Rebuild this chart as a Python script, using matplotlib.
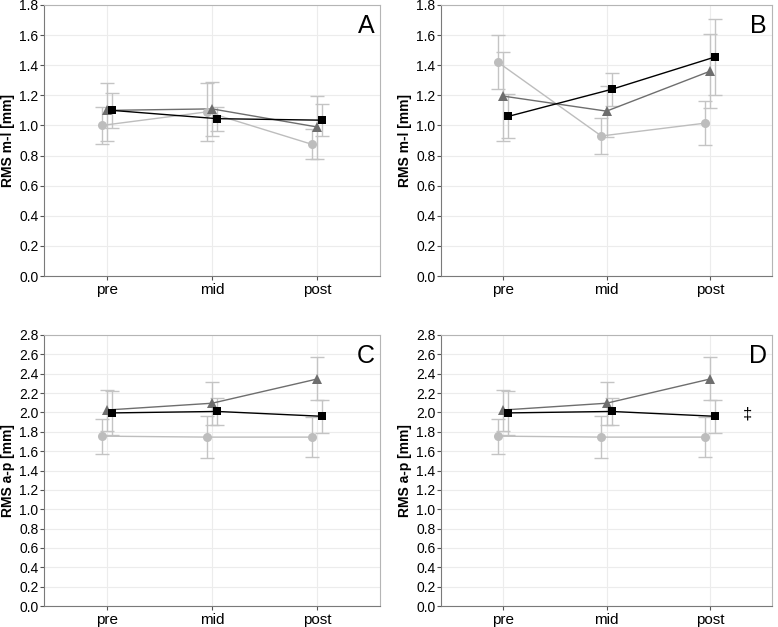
import matplotlib.pyplot as plt
import numpy as np

plt.rcParams["font.family"] = ["Liberation Sans", "DejaVu Sans"]

phases = ["pre", "mid", "post"]
groups = ["circle", "triangle", "square"]

# panel A: RMS m-l
a_mean = {"circle": [1.00, 1.09, 0.875], "triangle": [1.10, 1.11, 0.99], "square": [1.10, 1.045, 1.035]}
a_low = {"circle": [0.88, 0.895, 0.775], "triangle": [0.90, 0.93, 0.78], "square": [0.98, 0.965, 0.93]}
a_high = {"circle": [1.12, 1.28, 0.975], "triangle": [1.28, 1.29, 1.195], "square": [1.215, 1.125, 1.14]}

# panel B: RMS m-l
b_mean = {"circle": [1.42, 0.93, 1.015], "triangle": [1.195, 1.095, 1.36], "square": [1.06, 1.24, 1.455]}
b_low = {"circle": [1.24, 0.81, 0.87], "triangle": [0.90, 0.92, 1.115], "square": [0.915, 1.13, 1.205]}
b_high = {"circle": [1.60, 1.05, 1.16], "triangle": [1.485, 1.26, 1.605], "square": [1.21, 1.35, 1.705]}

# panels C and D: RMS a-p
c_mean = {"circle": [1.755, 1.745, 1.745], "triangle": [2.025, 2.095, 2.345], "square": [1.995, 2.01, 1.96]}
c_low = {"circle": [1.575, 1.53, 1.54], "triangle": [1.81, 1.875, 2.125], "square": [1.765, 1.87, 1.79]}
c_high = {"circle": [1.935, 1.96, 1.95], "triangle": [2.23, 2.315, 2.57], "square": [2.22, 2.15, 2.13]}

style = {
    "circle": dict(marker="o", color="#bdbdbd", ms=6.5, offset=-0.05, lw=1.0),
    "triangle": dict(marker="^", color="#6e6e6e", ms=7.5, offset=0.0, lw=1.0),
    "square": dict(marker="s", color="#000000", ms=6, offset=0.05, lw=1.0),
}


def draw_panel(ax, mean, low, high, letter, ylabel, ymax):
    x = np.arange(1, len(phases) + 1)
    for g in groups:
        s = style[g]
        xs = x + s["offset"]
        m = np.array(mean[g])
        lo = np.array(low[g])
        hi = np.array(high[g])
        ax.errorbar(xs, m, yerr=[m - lo, hi - m], fmt="none", ecolor="#c4c4c4",
                    elinewidth=1.0, capsize=5, capthick=1.0, zorder=2)
        ax.plot(xs, m, color=s["color"], lw=s["lw"], zorder=3)
        ax.plot(xs, m, linestyle="none", marker=s["marker"], color=s["color"],
                ms=s["ms"], markeredgewidth=0, zorder=4)
    ax.set_xlim(0.4, 3.6)
    ax.set_ylim(0, ymax)
    ticks = np.arange(0, ymax + 0.01, 0.2)
    ax.set_yticks(ticks)
    ax.set_yticklabels([f"{v:.1f}" for v in ticks])
    ax.set_xticks(x)
    ax.set_xticklabels(phases, fontsize=11)
    ax.tick_params(axis="y", labelsize=10, length=3, color="#555555", pad=1)
    ax.tick_params(axis="x", length=3, color="#555555", pad=2)
    ax.grid(True, color="#ececec", lw=0.8)
    ax.set_axisbelow(True)
    for side in ["top", "right"]:
        ax.spines[side].set_color("#b5b5b5")
    for side in ["left", "bottom"]:
        ax.spines[side].set_color("#7a7a7a")
    ax.set_ylabel(ylabel, fontsize=10, fontweight="bold", labelpad=3)
    ax.text(0.985, 0.965, letter, transform=ax.transAxes, ha="right", va="top", fontsize=18)


fig = plt.figure(figsize=(7.78, 6.27), dpi=100)
W, H = 778, 627
axA = fig.add_axes([44 / W, 1 - 276 / H, 336 / W, 271 / H])
axB = fig.add_axes([441 / W, 1 - 276 / H, 331 / W, 271 / H])
axC = fig.add_axes([44 / W, 1 - 606 / H, 336 / W, 271 / H])
axD = fig.add_axes([441 / W, 1 - 606 / H, 331 / W, 271 / H])

draw_panel(axA, a_mean, a_low, a_high, "A", "RMS m-l [mm]", 1.8)
draw_panel(axB, b_mean, b_low, b_high, "B", "RMS m-l [mm]", 1.8)
draw_panel(axC, c_mean, c_low, c_high, "C", "RMS a-p [mm]", 2.8)
draw_panel(axD, c_mean, c_low, c_high, "D", "RMS a-p [mm]", 2.8)

# significance mark next to the post values in panel D
axD.text(3.36, c_mean["square"][2] + 0.02, "‡", ha="center", va="center", fontsize=12)

fig.savefig("out.png", dpi=100)
